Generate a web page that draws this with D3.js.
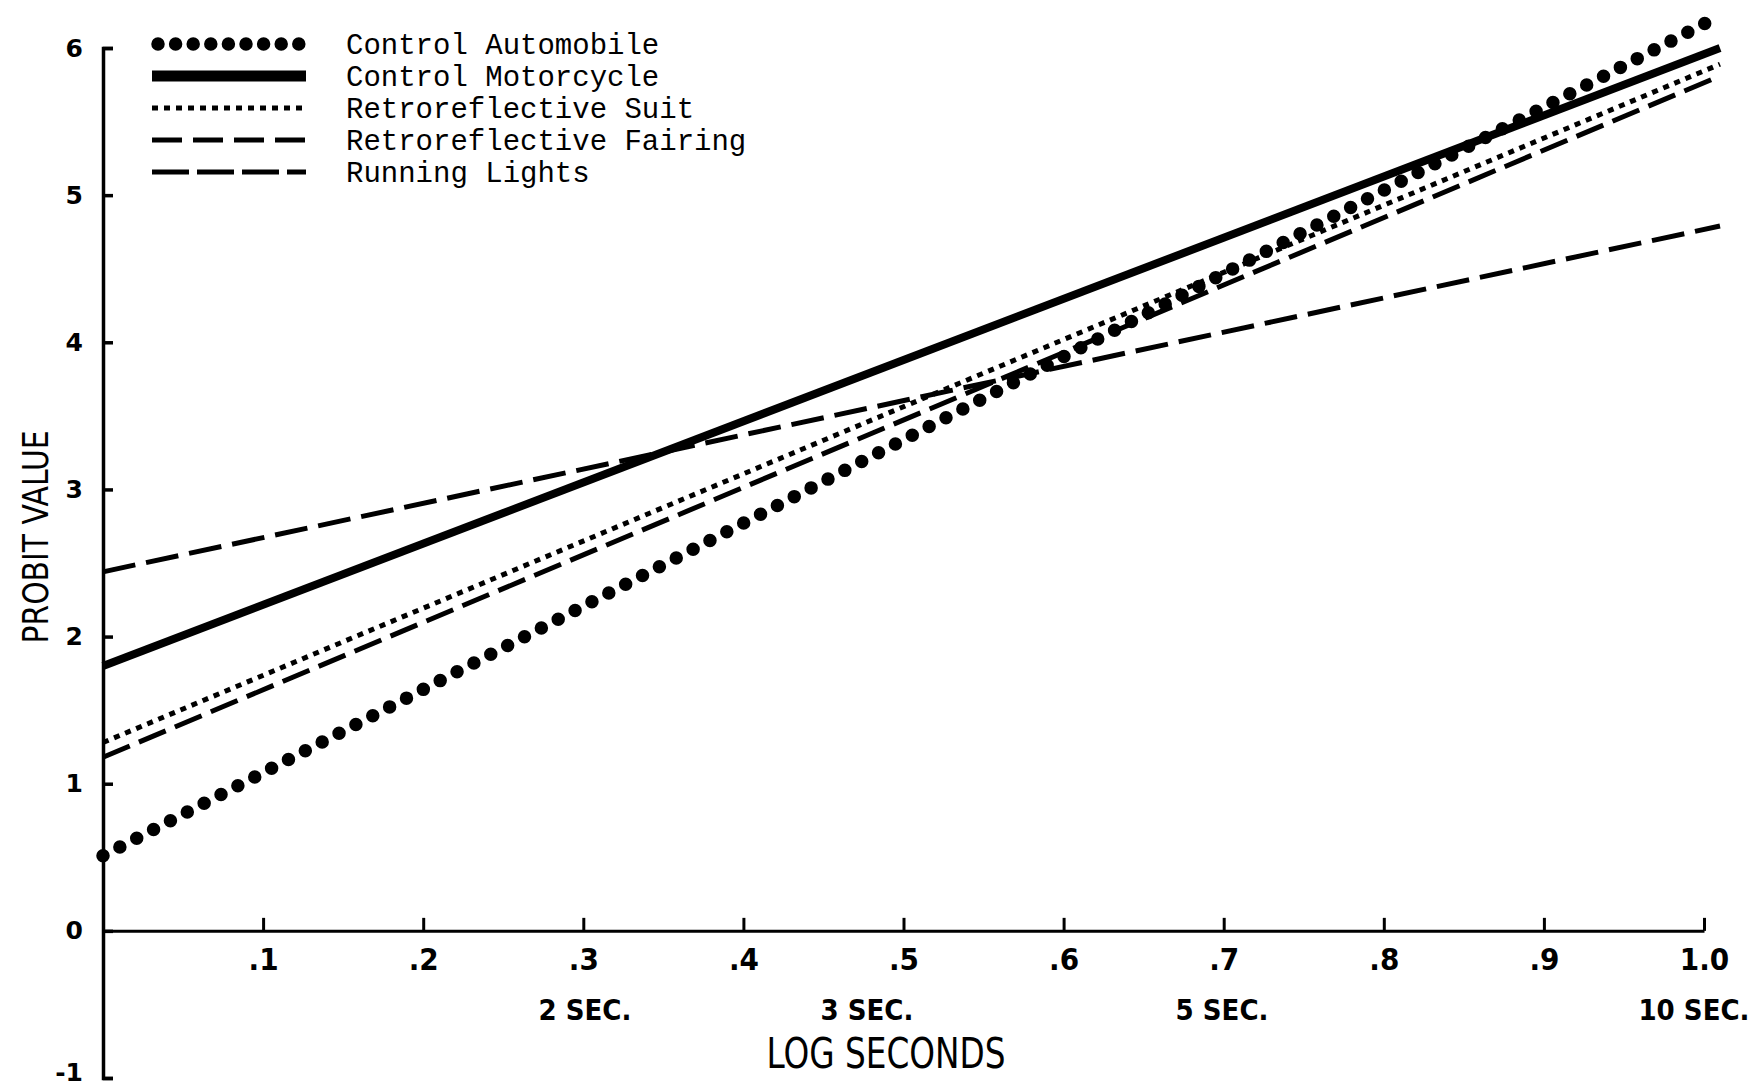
<!DOCTYPE html>
<html>
<head>
<meta charset="utf-8">
<script src="https://cdn.jsdelivr.net/npm/d3@7"></script>
<style>
  body { margin: 0; background: #fff; }
  svg { display: block; }
</style>
</head>
<body>
<svg></svg>
<script>
//* Probit value vs log seconds, five straight regression lines
const width = 1760;
const height = 1090;

// log seconds at both ends of every line
const logSeconds = [0, 1.01];

// probit values at those two ends
const automobile = [0.51, 6.22];
const motorcycle = [1.80, 6.00];
const suit = [1.28, 5.89];
const fairing = [1.18, 5.81];
const runningLights = [2.44, 4.79];

const seriesNames = [
  "Control Automobile",
  "Control Motorcycle",
  "Retroreflective Suit",
  "Retroreflective Fairing",
  "Running Lights"];

const xTicks = [0.1, 0.2, 0.3, 0.4, 0.5, 0.6, 0.7, 0.8, 0.9, 1.0];
const yTicks = [-1, 0, 1, 2, 3, 4, 5, 6];
const secondsMarks = [2, 3, 5, 10];

const series = [
  {name: seriesNames[0], values: automobile, width: 13.5, dash: "0 19", legendDash: "0 17.6", cap: "round"},
  {name: seriesNames[1], values: motorcycle, width: 8, dash: null, cap: "butt"},
  {name: seriesNames[2], values: suit, width: 5, dash: "6 6", cap: "butt"},
  {name: seriesNames[3], values: fairing, width: 5, dash: "29 10", legendDash: "30 11", cap: "butt"},
  {name: seriesNames[4], values: runningLights, width: 5, dash: "33 11", legendDash: "37 8", cap: "butt"}
];

const condensed = "'Liberation Sans Narrow', 'DejaVu Sans Condensed', 'Liberation Sans', sans-serif";

const x = d3.scaleLinear().domain([0, 1]).range([103, 1704]);
const y = d3.scaleLinear().domain([-1, 6]).range([1078, 48]);

const svg = d3.select("svg")
  .attr("width", width)
  .attr("height", height);

svg.append("rect")
  .attr("width", width)
  .attr("height", height)
  .attr("fill", "#fff");

// Axes
const yAxis = svg.append("g")
  .attr("transform", `translate(${x(0)}, 0)`)
  .call(d3.axisLeft(y)
    .tickValues(yTicks)
    .tickSize(-10)
    .tickSizeOuter(-10)
    .tickPadding(20)
    .tickFormat(d => d < 0 ? "-" + Math.abs(d) : d));

yAxis.select(".domain").attr("stroke-width", 3.5);
yAxis.selectAll(".tick line").attr("stroke-width", 3.5);
yAxis.selectAll("text")
  .attr("font-family", "'DejaVu Sans', sans-serif")
  .attr("font-weight", "bold")
  .attr("font-size", 25)
  // the bottom label sits right at the page edge, lift it a little
  .attr("dy", d => d < 0 ? "0.1em" : "0.32em");

const xAxis = svg.append("g")
  .attr("transform", `translate(0, ${y(0)})`)
  .call(d3.axisBottom(x)
    .tickValues(xTicks)
    .tickSize(-13)
    .tickSizeOuter(0)
    .tickPadding(17)
    .tickFormat(d => d === 1 ? "1.0" : d3.format(".1f")(d).replace(/^0/, "")));

xAxis.select(".domain").attr("stroke-width", 3);
xAxis.selectAll(".tick line").attr("stroke-width", 3);
xAxis.selectAll("text")
  .attr("font-family", condensed)
  .attr("font-weight", "bold")
  .attr("font-size", 31);

// second marks under the log ticks
svg.append("g")
  .selectAll("text")
  .data(secondsMarks)
  .join("text")
    .attr("x", d => x(Math.log10(d)))
    .attr("dx", d => d === 10 ? -10 : 0)
    .attr("y", 1020)
    .attr("text-anchor", "middle")
    .attr("font-family", condensed)
    .attr("font-weight", "bold")
    .attr("font-size", 29)
    .text(d => `${d}  SEC.`);

svg.append("text")
  .attr("x", 886)
  .attr("y", 1068)
  .attr("text-anchor", "middle")
  .attr("font-family", condensed)
  .attr("font-size", 42)
  .attr("textLength", 239)
  .attr("lengthAdjust", "spacingAndGlyphs")
  .text("LOG  SECONDS");

svg.append("text")
  .attr("transform", "translate(48, 537) rotate(-90)")
  .attr("text-anchor", "middle")
  .attr("font-family", condensed)
  .attr("font-size", 36)
  .attr("textLength", 213)
  .attr("lengthAdjust", "spacingAndGlyphs")
  .text("PROBIT VALUE");

// Lines
const line = d3.line()
  .x(d => x(d[0]))
  .y(d => y(d[1]));

svg.append("g")
  .selectAll("path")
  .data(series.slice().reverse())
  .join("path")
    .attr("d", d => line(logSeconds.map((s, i) => [s, d.values[i]])))
    .attr("fill", "none")
    .attr("stroke", "#000")
    .attr("stroke-width", d => d.width)
    .attr("stroke-linecap", d => d.cap)
    .attr("stroke-dasharray", d => d.dash);

// Legend
const legend = svg.append("g")
  .selectAll("g")
  .data(series)
  .join("g")
    .attr("transform", (d, i) => `translate(0, ${44 + i * 32})`);

legend.append("line")
  .attr("x1", d => d.cap === "round" ? 158 : 152)
  .attr("x2", 306)
  .attr("stroke", "#000")
  .attr("stroke-width", (d, i) => i === 1 ? 11 : d.width)
  .attr("stroke-linecap", d => d.cap)
  .attr("stroke-dasharray", d => d.legendDash || d.dash);

legend.append("text")
  .attr("x", 346)
  .attr("dy", "0.35em")
  .attr("font-family", "'Liberation Mono', monospace")
  .attr("font-size", 29)
  .text(d => d.name);
</script>
</body>
</html>
